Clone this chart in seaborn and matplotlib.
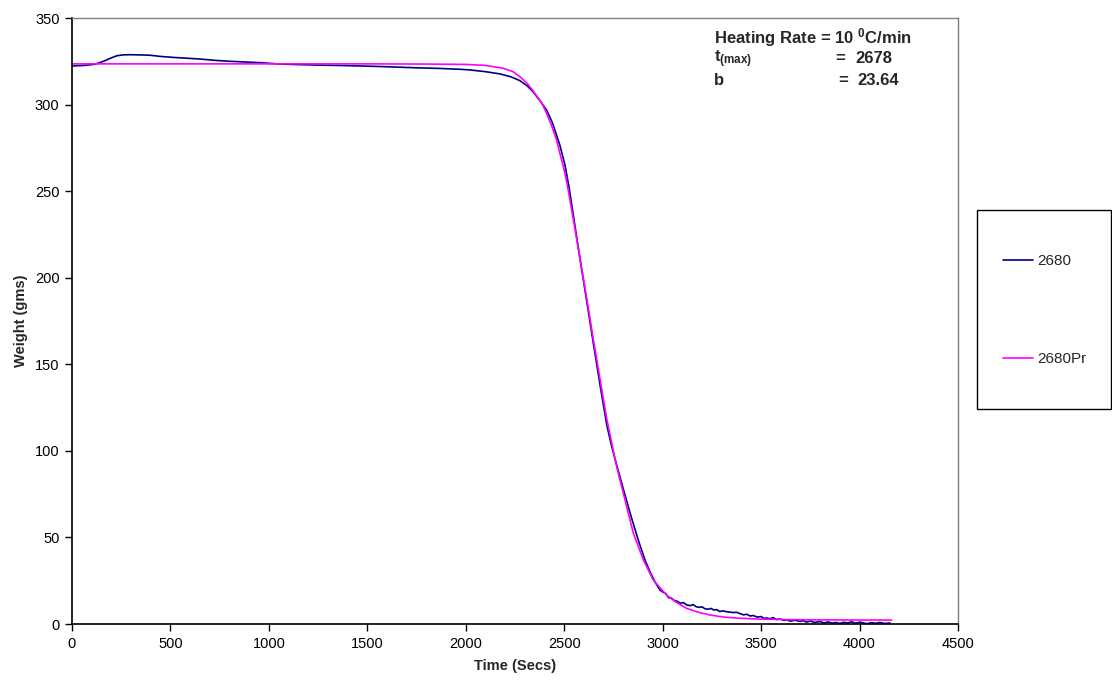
import matplotlib
matplotlib.use("Agg")
import matplotlib.pyplot as plt
from matplotlib.patches import Rectangle
import seaborn as sns
import pandas as pd

# Measured thermogravimetric weight loss (sample 2680)
time_2680 = [0, 60, 117, 160, 200, 228, 260, 295, 340, 396, 450, 520, 580, 650, 720,
             800, 880, 955, 1056, 1150, 1250, 1350, 1463, 1560, 1660, 1760, 1860, 1970,
             2021, 2100, 2174, 2230, 2275, 2310, 2341, 2375, 2412, 2440, 2478, 2504,
             2525, 2545, 2580, 2615, 2648, 2682, 2716, 2740, 2766, 2800, 2840, 2876,
             2910, 2936, 2960, 2986, 3000, 3015, 3030, 3045, 3060, 3075, 3090, 3105,
             3122, 3140, 3155, 3170, 3185, 3200, 3215, 3230, 3245, 3260, 3275, 3290,
             3305, 3325, 3340, 3360, 3375, 3393, 3410, 3427, 3445, 3460, 3480, 3500,
             3515, 3528, 3545, 3560, 3580, 3596, 3615, 3630, 3650, 3670, 3697, 3715,
             3730, 3750, 3770, 3799, 3820, 3840, 3860, 3880, 3900, 3920, 3940, 3960,
             3980, 4002, 4020, 4040, 4060, 4080, 4104, 4125, 4155]
weight_2680 = [322.3, 322.6, 323.3, 325.0, 327.0, 328.2, 328.7, 328.8, 328.7, 328.5,
               327.8, 327.2, 326.8, 326.3, 325.6, 325.0, 324.6, 324.2, 323.4, 323.1,
               322.8, 322.6, 322.3, 322.0, 321.6, 321.2, 320.9, 320.4, 320.0, 319.0,
               317.7, 316.0, 313.8, 311.0, 307.5, 302.5, 296.5, 289.5, 276.5, 265.0,
               252.0, 237.0, 211.0, 186.0, 162.0, 138.0, 115.0, 103.0, 92.0, 78.0,
               62.0, 48.5, 37.0, 30.0, 24.5, 19.6, 18.5, 17.6, 15.2, 14.9, 13.5, 13.1,
               12.0, 12.4, 11.0, 10.6, 11.2, 10.0, 9.6, 9.9, 8.8, 8.5, 9.0, 8.1, 8.3,
               7.2, 7.6, 7.1, 6.9, 6.6, 6.8, 6.0, 5.3, 5.6, 4.6, 4.9, 4.0, 4.3, 3.2, 3.5,
               3.0, 3.7, 2.6, 2.9, 2.1, 2.4, 1.6, 2.2, 1.5, 1.9, 1.1, 1.7, 0.9, 1.4, 0.6,
               1.2, 0.5, 0.9, 0.3, 1.0, 0.6, 1.3, 0.4, 1.1, 0.5, 0.2, 0.8, 0.4, 0.9, 0.3,
               0.6]

# Model prediction (2680Pr)
time_pred = [0, 500, 1000, 1500, 1800, 2000, 2100, 2190, 2240, 2275, 2310, 2336, 2360,
             2387, 2410, 2438, 2460, 2478, 2500, 2514, 2529, 2570, 2610, 2650, 2690,
             2716, 2766, 2809, 2851, 2902, 2952, 3020, 3070, 3122, 3180, 3240, 3310,
             3393, 3500, 3650, 3800, 4000, 4163]
weight_pred = [323.5, 323.5, 323.5, 323.5, 323.4, 323.2, 322.6, 321.0, 319.0, 316.1,
               312.5, 308.8, 305.0, 300.7, 295.0, 287.2, 280.0, 271.8, 262.0, 254.5,
               245.0, 218.0, 191.0, 163.0, 136.0, 118.5, 91.0, 71.6, 52.4, 37.0, 25.4,
               16.7, 12.5, 9.0, 6.8, 5.2, 4.0, 3.3, 2.8, 2.5, 2.4, 2.3, 2.3]

series_labels = ["2680", "2680Pr"]
x_ticks = [0, 500, 1000, 1500, 2000, 2500, 3000, 3500, 4000, 4500]
y_ticks = [0, 50, 100, 150, 200, 250, 300, 350]

sns.set_style("ticks")
plt.rcParams["font.family"] = ["Liberation Sans", "DejaVu Sans"]
plt.rcParams["mathtext.fontset"] = "custom"
plt.rcParams["mathtext.rm"] = "Liberation Sans:bold"
plt.rcParams["mathtext.bf"] = "Liberation Sans:bold"

W, H = 1112, 683
fig = plt.figure(figsize=(W / 100, H / 100), dpi=100)
ax = fig.add_axes([72 / W, 1 - 624 / H, (958 - 72) / W, (624 - 18) / H])

df_meas = pd.DataFrame({"t": time_2680, "w": weight_2680})
df_pred = pd.DataFrame({"t": time_pred, "w": weight_pred})

sns.lineplot(data=df_meas, x="t", y="w", ax=ax, color="#000080", lw=1.2,
             estimator=None, sort=False, label=series_labels[0])
sns.lineplot(data=df_pred, x="t", y="w", ax=ax, color="#FF00FF", lw=1.2,
             estimator=None, sort=False, label=series_labels[1])

ax.set_xlim(0, 4500)
ax.set_ylim(0, 350)
ax.set_xticks(x_ticks)
ax.set_yticks(y_ticks)
ax.tick_params(axis="both", direction="out", length=5, width=1, colors="black",
               labelsize=10.5, pad=4)
for side in ("left", "bottom"):
    ax.spines[side].set_color("black")
    ax.spines[side].set_linewidth(1.2)
for side in ("top", "right"):
    ax.spines[side].set_visible(True)
    ax.spines[side].set_color("#808080")
    ax.spines[side].set_linewidth(1.0)

ax.set_xlabel("Time (Secs)", fontsize=10.5, fontweight="bold", labelpad=6)
ax.set_ylabel("Weight (gms)", fontsize=10.5, fontweight="bold", labelpad=5)

# Legend in a separate framed box to the right of the plot area
handles, labels = ax.get_legend_handles_labels()
ax.get_legend().remove()
fig.legend(handles, labels, loc="center left",
           bbox_to_anchor=(1003 / W, 1 - 310 / H), frameon=False, fontsize=11,
           labelspacing=5.5, handlelength=1.95, handletextpad=0.3, borderpad=0,
           borderaxespad=0)
fig.patches.append(Rectangle((977 / W, 1 - 409 / H), (1111 - 977) / W, (409 - 210) / H,
                             transform=fig.transFigure, fill=False,
                             edgecolor="black", lw=1.0))

# Fit parameters
txt = dict(fontsize=12, fontweight="bold", va="baseline", ha="left")
fig.text(714 / W, 1 - 43.3 / H, r"Heating Rate = 10 $\mathrm{^{0}}$C/min", **txt)
fig.text(714 / W, 1 - 62.7 / H, r"t$\mathrm{_{(max)}}$", **txt)
fig.text(835 / W, 1 - 62.7 / H, "=", **txt)
fig.text(855 / W, 1 - 62.7 / H, "2678", **txt)
fig.text(714 / W, 1 - 85 / H, "b", **txt)
fig.text(838 / W, 1 - 85 / H, "=", **txt)
fig.text(857 / W, 1 - 85 / H, "23.64", **txt)

fig.savefig("out.png", dpi=100)
